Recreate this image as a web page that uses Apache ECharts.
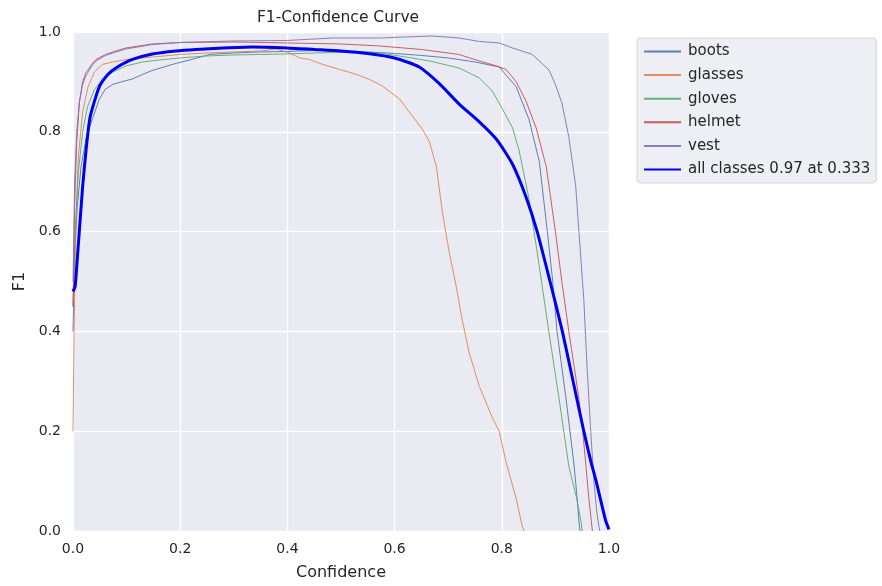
<!DOCTYPE html>
<html>
<head>
<meta charset="utf-8">
<script src="https://cdn.jsdelivr.net/npm/echarts@6/dist/echarts.min.js"></script>
<style>
html,body{margin:0;padding:0;background:#fff;}
#chart{width:882px;height:586px;}
</style>
</head>
<body>
<div id="chart"></div>
<script>
const xTicks = [0, 0.2, 0.4, 0.6, 0.8, 1.0];
const yTicks = [0, 0.2, 0.4, 0.6, 0.8, 1.0];
const classNames = ['boots', 'glasses', 'gloves', 'helmet', 'vest'];
const allLabel = 'all classes 0.97 at 0.333';

const boots = [[0,0.4],[0.003,0.55],[0.008,0.65],[0.015,0.73],[0.025,0.79],[0.037,0.828],[0.049,0.865],[0.06,0.885],[0.074,0.895],[0.09,0.9],[0.111,0.906],[0.13,0.915],[0.148,0.923],[0.17,0.93],[0.192,0.937],[0.218,0.944],[0.255,0.955],[0.3,0.958],[0.35,0.96],[0.4,0.961],[0.45,0.963],[0.5,0.962],[0.55,0.96],[0.6,0.957],[0.65,0.953],[0.7,0.948],[0.75,0.94],[0.795,0.93],[0.827,0.89],[0.851,0.824],[0.87,0.74],[0.885,0.6],[0.895,0.5],[0.903,0.4],[0.92,0.264],[0.935,0.13],[0.941,0.06],[0.944,0.018],[0.946,0]];
const glasses = [[0,0.2],[0.002,0.4],[0.005,0.6],[0.01,0.75],[0.018,0.84],[0.028,0.89],[0.04,0.92],[0.055,0.935],[0.075,0.94],[0.1,0.945],[0.15,0.95],[0.2,0.955],[0.25,0.958],[0.3,0.96],[0.35,0.962],[0.38,0.966],[0.404,0.958],[0.423,0.948],[0.441,0.945],[0.466,0.935],[0.497,0.925],[0.529,0.915],[0.553,0.905],[0.577,0.892],[0.609,0.866],[0.633,0.832],[0.652,0.805],[0.665,0.78],[0.678,0.73],[0.689,0.64],[0.702,0.558],[0.715,0.49],[0.726,0.424],[0.739,0.358],[0.758,0.29],[0.782,0.228],[0.795,0.2],[0.808,0.138],[0.827,0.064],[0.838,0.01],[0.842,0]];
const gloves = [[0,0.45],[0.004,0.6],[0.01,0.72],[0.018,0.8],[0.027,0.85],[0.04,0.885],[0.055,0.905],[0.075,0.92],[0.099,0.932],[0.13,0.94],[0.17,0.945],[0.2,0.948],[0.25,0.952],[0.3,0.954],[0.35,0.955],[0.4,0.956],[0.45,0.958],[0.5,0.959],[0.572,0.958],[0.62,0.95],[0.665,0.942],[0.72,0.928],[0.758,0.908],[0.782,0.882],[0.8,0.848],[0.82,0.808],[0.832,0.764],[0.851,0.664],[0.87,0.53],[0.888,0.398],[0.907,0.264],[0.925,0.13],[0.94,0.064],[0.948,0.018],[0.95,0]];
const helmet = [[0,0.45],[0.003,0.65],[0.007,0.78],[0.012,0.86],[0.018,0.9],[0.024,0.918],[0.035,0.935],[0.043,0.945],[0.061,0.955],[0.08,0.962],[0.099,0.968],[0.148,0.976],[0.2,0.979],[0.3,0.98],[0.4,0.978],[0.5,0.976],[0.572,0.972],[0.65,0.965],[0.72,0.955],[0.758,0.942],[0.79,0.932],[0.808,0.925],[0.827,0.9],[0.845,0.862],[0.864,0.808],[0.883,0.73],[0.9,0.6],[0.912,0.5],[0.925,0.4],[0.935,0.33],[0.944,0.264],[0.951,0.2],[0.957,0.13],[0.962,0.07],[0.967,0.02],[0.969,0]];
const vest = [[0,0.5],[0.003,0.7],[0.007,0.8],[0.012,0.86],[0.018,0.895],[0.024,0.912],[0.035,0.932],[0.043,0.942],[0.061,0.953],[0.08,0.96],[0.099,0.966],[0.148,0.975],[0.2,0.979],[0.3,0.982],[0.4,0.983],[0.484,0.988],[0.572,0.988],[0.62,0.99],[0.67,0.992],[0.72,0.988],[0.758,0.981],[0.795,0.978],[0.82,0.968],[0.857,0.955],[0.888,0.924],[0.9,0.895],[0.912,0.858],[0.925,0.79],[0.938,0.69],[0.944,0.598],[0.953,0.464],[0.959,0.33],[0.966,0.198],[0.972,0.098],[0.977,0.04],[0.981,0.01],[0.983,0]];
const allClasses = [[0,0.48],[0.004,0.49],[0.009,0.56],[0.018,0.69],[0.025,0.77],[0.032,0.83],[0.049,0.89],[0.065,0.915],[0.08,0.928],[0.111,0.945],[0.148,0.956],[0.192,0.962],[0.229,0.965],[0.28,0.968],[0.333,0.97],[0.4,0.968],[0.45,0.965],[0.5,0.962],[0.55,0.957],[0.6,0.948],[0.646,0.93],[0.683,0.897],[0.721,0.855],[0.758,0.82],[0.79,0.785],[0.82,0.735],[0.845,0.67],[0.866,0.6],[0.89,0.5],[0.913,0.4],[0.933,0.3],[0.953,0.2],[0.966,0.14],[0.976,0.1],[0.986,0.055],[0.994,0.02],[1.0,0.003]];

const classData = [boots, glasses, gloves, helmet, vest];
const classColors = ['#4c72b0', '#dd8452', '#55a868', '#c44e52', '#8172b3'];
const textColor = '#262626';
const font = 'DejaVu Sans';

const series = classNames.map((n, i) => ({
  name: n, type: 'line', data: classData[i], showSymbol: false, symbol: 'none',
  lineStyle: { width: 1, color: classColors[i], opacity: 0.9 }, itemStyle: { color: classColors[i] },
  silent: true, animation: false
}));
series.push({
  name: allLabel, type: 'line', data: allClasses, showSymbol: false, symbol: 'none',
  smooth: 0.2,
  lineStyle: { width: 3, color: '#0000f0' }, itemStyle: { color: '#0000f0' },
  silent: true, animation: false, z: 5
});

const chart = echarts.init(document.getElementById('chart'));
chart.setOption({
  backgroundColor: '#ffffff',
  animation: false,
  title: {
    text: 'F1-Confidence Curve', left: 333, top: 5, textAlign: 'center',
    textStyle: { fontFamily: font, fontSize: 15.5, fontWeight: 'normal', color: textColor }
  },
  grid: { left: 73, right: 273, top: 32, bottom: 54, show: true, backgroundColor: '#eaeaf2', borderWidth: 0 },
  legend: {
    orient: 'vertical', left: 637, top: 38, padding: [6, 6, 6, 6],
    itemWidth: 37, itemHeight: 14, itemGap: 8.6,
    itemStyle: { opacity: 0 },
    backgroundColor: 'rgba(238,238,245,1)', borderColor: '#d6d6d6', borderWidth: 1, borderRadius: 3,
    data: classNames.concat([allLabel]),
    textStyle: { fontFamily: font, fontSize: 15, color: textColor, padding: [0, 0, 0, 2] }
  },
  xAxis: {
    type: 'value', min: 0, max: 1, interval: 0.2,
    name: 'Confidence', nameLocation: 'middle', nameGap: 34,
    nameTextStyle: { fontFamily: font, fontSize: 16, color: textColor },
    axisLine: { show: false }, axisTick: { show: false },
    axisLabel: { fontFamily: font, fontSize: 14, color: textColor, margin: 11, formatter: v => v.toFixed(1) },
    splitLine: { show: true, lineStyle: { color: '#ffffff', width: 1.3 } }
  },
  yAxis: {
    type: 'value', min: 0, max: 1, interval: 0.2,
    name: 'F1', nameLocation: 'middle', nameGap: 45, nameRotate: 90,
    nameTextStyle: { fontFamily: font, fontSize: 16, color: textColor },
    axisLine: { show: false }, axisTick: { show: false },
    axisLabel: { fontFamily: font, fontSize: 14, color: textColor, margin: 12, formatter: v => v.toFixed(1) },
    splitLine: { show: true, lineStyle: { color: '#ffffff', width: 1.3 } }
  },
  series: series
});
</script>
</body>
</html>
